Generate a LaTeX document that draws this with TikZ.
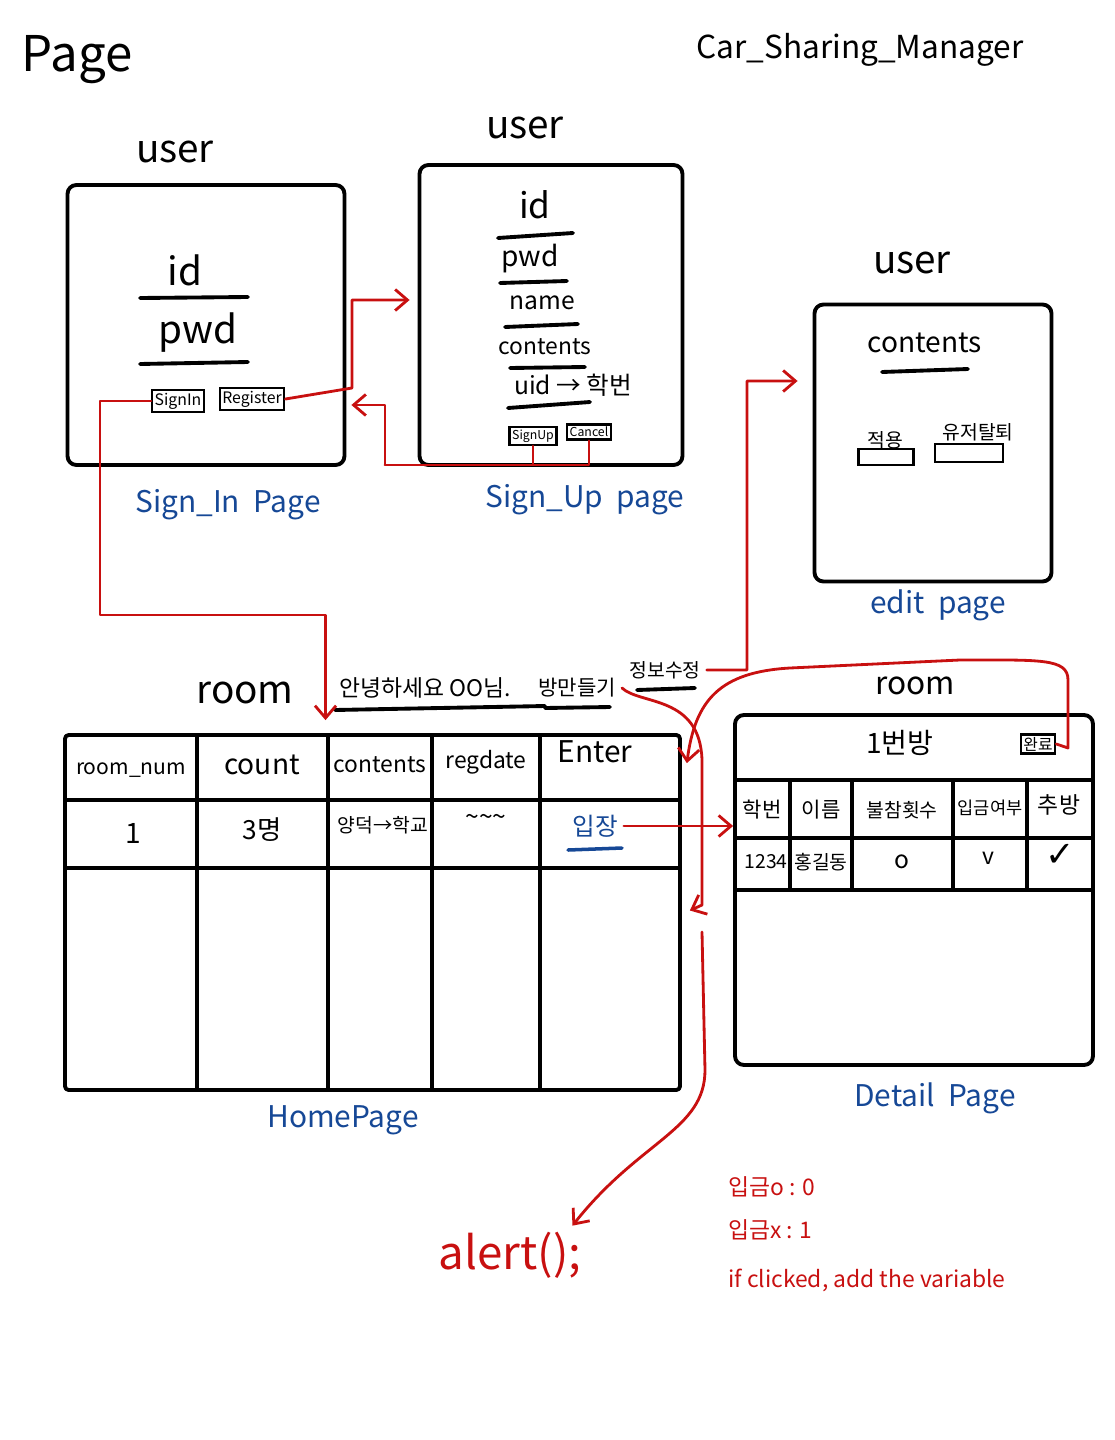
\documentclass[tikz,border=0pt]{standalone}
\usepackage{fontspec}
\setmainfont{Noto Sans CJK KR}
\newfontfamily\symfont{DejaVu Sans}
\usetikzlibrary{arrows.meta}
\definecolor{penred}{RGB}{200,16,16}
\definecolor{penblue}{RGB}{22,72,150}
\newcommand{\fsz}[1]{\fontsize{#1}{#1}\selectfont}
\tikzset{
  ink/.style={line width=2.2pt, line cap=round, line join=round},
  box/.style={draw, ink, rounded corners=5pt, inner sep=0pt},
  btn/.style={draw, line width=1.3pt, inner sep=1.5pt, font=\fsz{9}},
  pagename/.style={text=penblue, font=\fsz{17}},
  wire/.style={draw=penred, line width=1.6pt, line cap=round, line join=round},
  link/.style={wire, -{Straight Barb[length=7pt,width=12pt]}},
}

\begin{document}
\begin{tikzpicture}[x=0.02cm,y=-0.02cm]
\useasboundingbox (0,0) rectangle (1115,1440);

\node[font=\fsz{28}] (pagettl) at (77,60) {Page};
\node[font=\fsz{18}] (appttl) at (860,50) {Car\_Sharing\_Manager};

% sign in
\node[box, minimum width=5.54cm, minimum height=5.6cm] (signin) at (206,325) {};
\node[font=\fsz{22}] (siuser) at (175,152) {user};
\node[font=\fsz{22}] (siid) at (185,270) {id};
\draw[ink] (140,298) -- (248,297);
\node[font=\fsz{22}] (sipwd) at (198,333) {pwd};
\draw[ink] (140,364) -- (248,362);
\node[btn] (sbtn) at (178,401) {SignIn};
\node[btn] (reg) at (252,399) {Register};
\node[pagename] (sipage) at (228,505) {Sign\_In\ \ Page};

% sign up
\node[box, minimum width=5.26cm, minimum height=6cm] (signup) at (551,315) {};
\node[font=\fsz{22}] (suuser) at (525,128) {user};
\node[font=\fsz{20}] (suid) at (535,205) {id};
\draw[ink] (498,238) -- (573,233);
\node[font=\fsz{16}] (supwd) at (530,259) {pwd};
\draw[ink] (500,283) -- (567,281);
\node[font=\fsz{14}] (suname) at (542,303) {name};
\draw[ink] (505,327) -- (578,324);
\node[font=\fsz{13}] (sucont) at (545,347) {contents};
\draw[ink] (510,368) -- (585,367);
\node[font=\fsz{14}] (suuid) at (573,385) {uid → 학번};
\draw[ink] (508,408) -- (590,402);
\node[btn, font=\fsz{7}] (sup) at (533,436) {SignUp};
\node[btn, font=\fsz{7}] (cancel) at (589,432) {Cancel};
\node[pagename] (supage) at (585,500) {Sign\_Up\ \ page};

% edit
\node[box, minimum width=4.74cm, minimum height=5.54cm] (edit) at (933,443) {};
\node[font=\fsz{22}] (eduser) at (912,263) {user};
\node[font=\fsz{16}] (edcont) at (925,343) {contents};
\draw[ink] (882,372) -- (968,369);
\node[btn, minimum width=1.1cm, minimum height=0.32cm] (apply) at (886,457) {};
\node[font=\fsz{11}] (applytxt) at (885,440) {적용};
\node[btn, minimum width=1.36cm, minimum height=0.36cm] (quit) at (969,453) {};
\node[font=\fsz{11}] (quittxt) at (978,432) {유저탈퇴};
\node[pagename] (edpage) at (938,605) {edit\ \ page};

% home page
\node[font=\fsz{22}] (hmroom) at (245,693) {room};
\node[font=\fsz{13}] (hello) at (425,688) {안녕하세요 OO님.};
\node[font=\fsz{12}] (make) at (577,688) {방만들기};
\node[font=\fsz{11}] (info) at (665,670) {정보수정};
\draw[ink] (335,710) -- (545,706);
\draw[ink] (545,708) -- (610,707);
\draw[ink] (637,690) -- (695,688);
\node[box, rounded corners=2pt, minimum width=12.3cm, minimum height=7.1cm] (home) at (372.5,912.5) {};
\foreach \cx in {197,328,432,540}
  \draw[ink] (\cx,735) -- (\cx,1090);
\draw[ink] (65,800) -- (680,800);
\draw[ink] (65,868) -- (680,868);
\node[font=\fsz{12}] (hnum) at (131,770) {room\_num};
\node[font=\fsz{16}] (hcount) at (262,765) {count};
\node[font=\fsz{13}] (hcont) at (380,765) {contents};
\node[font=\fsz{13}] (hdate) at (486,762) {regdate};
\node[font=\fsz{17}] (henter) at (595,752) {Enter};
\node[font=\fsz{16}] (rnum) at (133,833) {1};
\node[font=\fsz{15}] (rcount) at (262,830) {3명};
\node[font=\fsz{11}] (rcont) at (383,825) {양덕→학교};
\node[font=\fsz{14}] (rdate) at (486,820) {\textasciitilde\textasciitilde\textasciitilde};
\node[font=\fsz{14}, text=penblue] (enter1) at (595,826) {입장};
\draw[penblue, line width=2pt, line cap=round] (568,850) -- (622,848);
\node[pagename] (hmpage) at (343,1120) {HomePage};

% detail page
\node[font=\fsz{18}] (dtroom) at (915,686) {room};
\node[box, minimum width=7.16cm, minimum height=7cm] (detail) at (914,890) {};
\node[font=\fsz{16}] (dttitle) at (900,743) {1번방};
\node[btn] (done) at (1038,744) {완료};
\draw[ink] (735,780) -- (1093,780);
\draw[ink] (735,838) -- (1093,838);
\draw[ink] (735,890) -- (1093,890);
\foreach \cx in {790,852,953,1027}
  \draw[ink] (\cx,780) -- (\cx,890);
\node[font=\fsz{12}] (dsid) at (762,810) {학번};
\node[font=\fsz{12}] (dname) at (821,810) {이름};
\node[font=\fsz{11}] (dabs) at (902,810) {불참횟수};
\node[font=\fsz{10}] (dpay) at (990,808) {입금여부};
\node[font=\fsz{13}] (dkick) at (1059,805) {추방};
\node[font=\fsz{11}] (vsid) at (766,862) {1234};
\node[font=\fsz{11}] (vname) at (821,862) {홍길동};
\node[font=\fsz{14}] (vabs) at (902,862) {o};
\node[font=\fsz{13}] (vpay) at (988,858) {v};
\node[font=\fsz{20}] (vkick) at (1060,855) {\symfont ✓};
\node[pagename] (dtpage) at (935,1098) {Detail\ \ Page};

% notes
\node[font=\fsz{13}, text=penred, anchor=west] (note1) at (722,1187) {입금o : 0};
\node[font=\fsz{13}, text=penred, anchor=west] (note2) at (722,1230) {입금x : 1};
\node[font=\fsz{13}, text=penred, anchor=west] (note3) at (722,1280) {if clicked, add the variable};
\node[font=\fsz{26}, text=penred] (alert) at (510,1255) {alert();};

% flows
\draw[link] (sbtn.west) -| (100,615) -| ([xshift=-0.94cm,yshift=0.26cm]home.north);
\draw[link] (reg.east) -- (352,388) -- (352,300) -- ([xshift=-0.16cm,yshift=0.3cm]signup.west);
\draw[wire] (sup.south) |- (385,465);
\draw[link] (cancel.south) |- (385,465) |- ([xshift=0.1cm,yshift=-1.6cm]signin.east);
\draw[link] (info.east) -| (747,381) -- ([xshift=-0.3cm,yshift=1.24cm]edit.west);
\draw[link] (make.east) .. controls (640,705) and (700,695) .. (702,760) -- (702,905) -- ([xshift=0.16cm,yshift=0.04cm]home.east);
\draw[link] (done.east) -- (1068,748) -- (1068,680) .. controls (1068,658) and (1040,660) .. (960,660) -- (790,668) .. controls (720,672) and (695,700) .. ([xshift=0.1cm,yshift=-0.6cm]home.north east);
\draw[link] (enter1.east) -- (detail.west |- enter1.east);
\coordinate (alertsrc) at (702,932);
\draw[link] (alertsrc) -- (705,1070) .. controls (705,1130) and (640,1140) .. ([xshift=-0.3cm]alert.north east);

\end{tikzpicture}
\end{document}
